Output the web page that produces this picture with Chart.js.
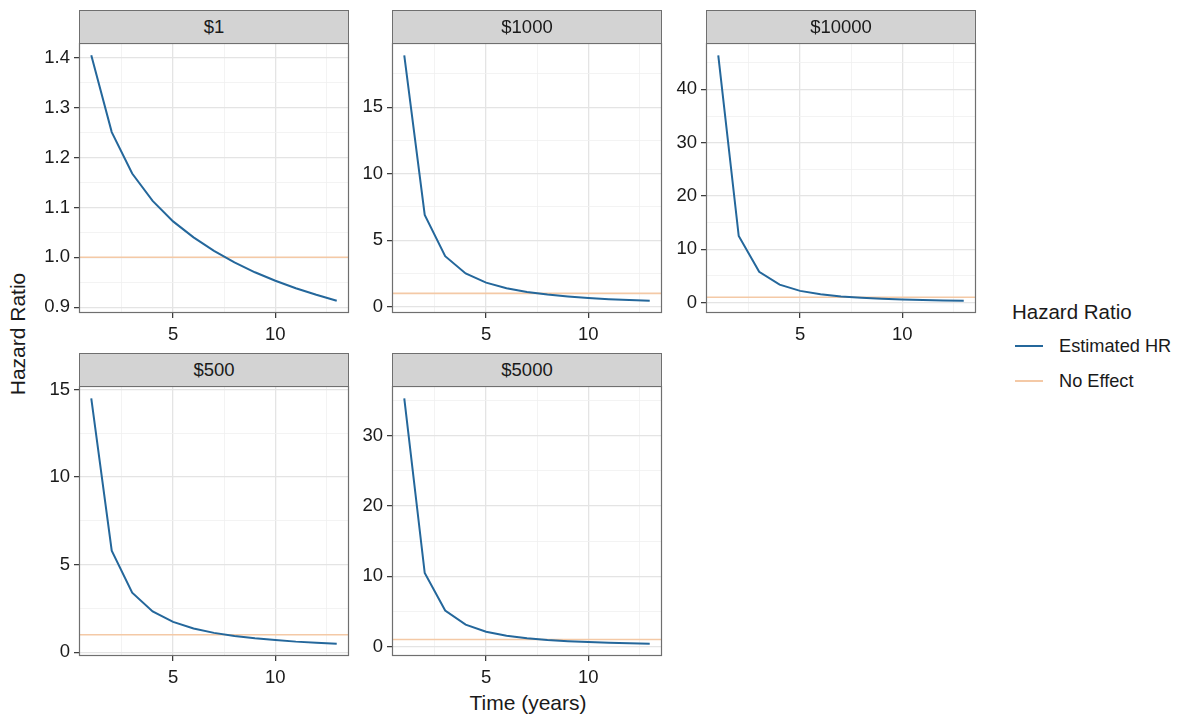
<!DOCTYPE html>
<html>
<head>
<meta charset="utf-8">
<title>Hazard Ratio</title>
<script src="https://cdn.jsdelivr.net/npm/chart.js@4.4.1/dist/chart.umd.min.js"></script>
<style>
body { margin: 0; background: #ffffff; font-family: "Liberation Sans", Arial, sans-serif; color: #1a1a1a; }
#lienzo { position: relative; width: 1184px; height: 717px; overflow: hidden; }
canvas { position: absolute; z-index: 1; }
.tira { position: absolute; width: 270px; height: 34px; background: #d3d3d3; border: 1px solid #6f6f6f;
        box-sizing: border-box; text-align: center; line-height: 32px; font-size: 18.5px; z-index: 2; }
.titulo-eje { position: absolute; font-size: 21px; white-space: nowrap; }
#titulo-y { left: 18px; top: 334px; transform: translate(-50%, -50%) rotate(-90deg); }
#titulo-x { left: 528px; top: 703px; transform: translate(-50%, -50%); }
#leyenda-titulo { position: absolute; left: 1012px; top: 300px; font-size: 20.5px; }
.leyenda-item { position: absolute; left: 1015px; height: 24px; font-size: 18.2px; line-height: 24px; }
.leyenda-item span.clave { position: absolute; left: 0; top: 11px; width: 28px; height: 2px; }
.leyenda-item span.texto { position: absolute; left: 44px; top: 0; white-space: nowrap; }
</style>
</head>
<body>
<div id="lienzo">
    <div id="titulo-y" class="titulo-eje">Hazard Ratio</div>
    <div id="titulo-x" class="titulo-eje">Time (years)</div>
    <div id="leyenda-titulo">Hazard Ratio</div>
    <div class="leyenda-item" style="top:334px"><span class="clave" style="background:#24679b"></span><span class="texto">Estimated HR</span></div>
    <div class="leyenda-item" style="top:369px"><span class="clave" style="background:#f4c9a6"></span><span class="texto">No Effect</span></div>
</div>

<script>
// datos
var tiempos = [1, 2, 3, 4, 5, 6, 7, 8, 9, 10, 11, 12, 13];
var paneles = ["$1", "$1000", "$10000", "$500", "$5000"];
var sinEfecto = 1;

var hr1 = [1.405, 1.251, 1.168, 1.113, 1.072, 1.040, 1.013, 0.990, 0.970, 0.953, 0.938, 0.925, 0.913];
var hr1000 = [18.9, 6.9, 3.8, 2.5, 1.81, 1.39, 1.11, 0.91, 0.77, 0.66, 0.57, 0.51, 0.45];
var hr10000 = [46.4, 12.5, 5.8, 3.37, 2.21, 1.56, 1.17, 0.91, 0.73, 0.60, 0.50, 0.42, 0.36];
var hr500 = [14.5, 5.8, 3.4, 2.33, 1.74, 1.36, 1.11, 0.93, 0.80, 0.70, 0.61, 0.55, 0.49];
var hr5000 = [35.3, 10.45, 5.12, 3.1, 2.09, 1.52, 1.16, 0.91, 0.74, 0.62, 0.52, 0.45, 0.39];

// marcas de los ejes (mayores con etiqueta, menores solo rejilla)
var ticksX = [5, 10];
var ticksXMenores = [2.5, 7.5, 12.5];
var ticksY1 = [0.9, 1.0, 1.1, 1.2, 1.3, 1.4];
var ticksY1Menores = [0.95, 1.05, 1.15, 1.25, 1.35];
var ticksY1000 = [0, 5, 10, 15];
var ticksY1000Menores = [2.5, 7.5, 12.5, 17.5];
var ticksY10000 = [0, 10, 20, 30, 40];
var ticksY10000Menores = [5, 15, 25, 35, 45];
var ticksY500 = [0, 5, 10, 15];
var ticksY500Menores = [2.5, 7.5, 12.5];
var ticksY5000 = [0, 10, 20, 30];
var ticksY5000Menores = [5, 15, 25, 35];

var colorHR = "#24679b";
var colorSinEfecto = "#f4c9a6";
var fuente = "'Liberation Sans', Arial, sans-serif";

// borde gris alrededor de cada panel
var bordePanel = {
    id: "bordePanel",
    afterDraw: function(chart){
        var a = chart.chartArea;
        var ctx = chart.ctx;
        ctx.save();
        ctx.strokeStyle = "#6f6f6f";
        ctx.lineWidth = 1.2;
        ctx.strokeRect(a.left + 0.5, a.top + 0.5, a.right - a.left - 1, a.bottom - a.top - 1);
        ctx.restore();
    }
};

document.addEventListener("DOMContentLoaded", function(){
    graficarPanel(0, 79, 10, hr1, ticksY1, ticksY1Menores, 1);
    graficarPanel(1, 392, 10, hr1000, ticksY1000, ticksY1000Menores, 0);
    graficarPanel(2, 706, 10, hr10000, ticksY10000, ticksY10000Menores, 0);
    graficarPanel(3, 79, 353, hr500, ticksY500, ticksY500Menores, 0);
    graficarPanel(4, 392, 353, hr5000, ticksY5000, ticksY5000Menores, 0);
});

function ejeConMenores(mayores, menores, formato, relleno){
    var todos = mayores.concat(menores).sort(function(a, b){ return a - b; });
    function esMayor(c){
        return c.tick && mayores.indexOf(c.tick.value) >= 0;
    }
    return {
        afterBuildTicks: function(scale){
            scale.ticks = todos.map(function(v){ return { value: v }; });
        },
        grid: {
            color: function(c){ return esMayor(c) ? "#e4e4e4" : "#f0f0f0"; },
            lineWidth: function(c){ return esMayor(c) ? 1.3 : 0.8; },
            tickColor: function(c){ return esMayor(c) ? "#333333" : "rgba(0,0,0,0)"; },
            tickWidth: 1.2,
            tickLength: 5
        },
        border: { display: false },
        ticks: {
            autoSkip: false,
            maxRotation: 0,
            padding: relleno,
            color: "#1a1a1a",
            font: { family: fuente, size: 18.5 },
            callback: function(v){
                return mayores.indexOf(v) >= 0 ? formato(v) : "";
            }
        }
    };
}

function graficarPanel(indice, izquierda, arriba, valores, ticksY, ticksYMenores, decimales){
    var lienzo = document.getElementById("lienzo");

    // tira con el nombre del panel
    var tira = document.createElement("div");
    tira.className = "tira";
    tira.style.left = izquierda + "px";
    tira.style.top = arriba + "px";
    tira.textContent = paneles[indice];
    lienzo.appendChild(tira);

    var canvas = document.createElement("canvas");
    canvas.width = 340;
    canvas.height = 316;
    canvas.style.left = (izquierda - 60) + "px";
    canvas.style.top = (arriba + 33 - 10) + "px";
    lienzo.appendChild(canvas);

    // rangos con 5% de expansion como ggplot
    var todos = valores.concat([sinEfecto]);
    var yMin = Math.min.apply(null, todos);
    var yMax = Math.max.apply(null, todos);
    var margenY = (yMax - yMin) * 0.05;
    var margenX = (tiempos[tiempos.length - 1] - tiempos[0]) * 0.05;
    var xMin = tiempos[0] - margenX;
    var xMax = tiempos[tiempos.length - 1] + margenX;

    var puntos = [];
    for(var i = 0; i < tiempos.length; i++){
        puntos.push({ x: tiempos[i], y: valores[i] });
    }

    var ejeX = ejeConMenores(ticksX, ticksXMenores, function(v){ return String(v); }, 6);
    ejeX.type = "linear";
    ejeX.min = xMin;
    ejeX.max = xMax;
    ejeX.afterFit = function(s){ s.height = 36; s.paddingLeft = 0; s.paddingRight = 0; };

    var ejeY = ejeConMenores(ticksY, ticksYMenores, function(v){ return v.toFixed(decimales); }, 4);
    ejeY.type = "linear";
    ejeY.min = yMin - margenY;
    ejeY.max = yMax + margenY;
    ejeY.afterFit = function(s){ s.width = 60; s.paddingTop = 0; s.paddingBottom = 0; };

    new Chart(canvas.getContext("2d"), {
        type: "line",
        data: {
            datasets: [{
                label: "Estimated HR",
                data: puntos,
                borderColor: colorHR,
                borderWidth: 2,
                pointRadius: 0,
                tension: 0
            }, {
                label: "No Effect",
                data: [{ x: xMin, y: sinEfecto }, { x: xMax, y: sinEfecto }],
                borderColor: colorSinEfecto,
                borderWidth: 1.6,
                pointRadius: 0,
                tension: 0
            }]
        },
        options: {
            responsive: false,
            animation: false,
            devicePixelRatio: 1,
            layout: { padding: { top: 10, right: 10, left: 0, bottom: 0 } },
            plugins: { legend: { display: false }, tooltip: { enabled: false } },
            scales: { x: ejeX, y: ejeY }
        },
        plugins: [bordePanel]
    });
}
</script>
</body>
</html>
